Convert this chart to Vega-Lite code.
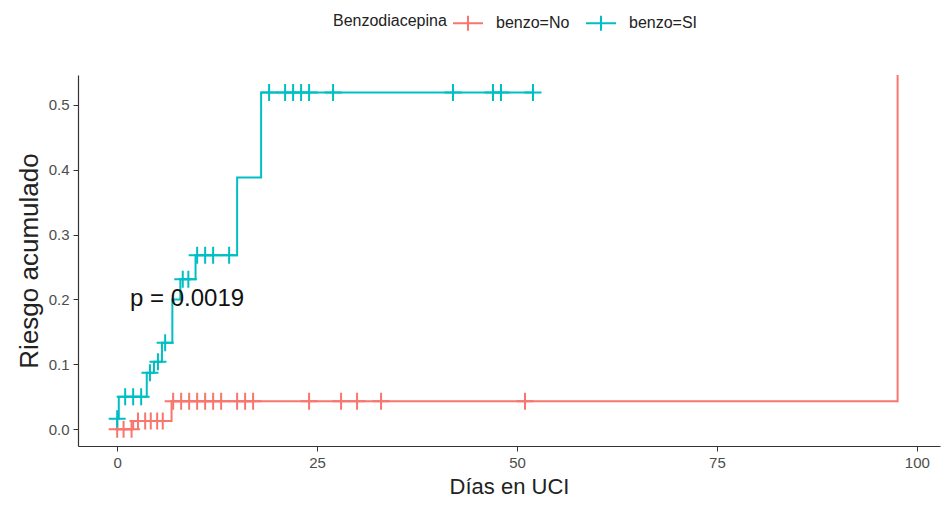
{
  "$schema": "https://vega.github.io/schema/vega-lite/v6.json",
  "width": 862,
  "height": 371,
  "autosize": "none",
  "padding": {"left": 78, "top": 75, "right": 6, "bottom": 64},
  "background": "white",
  "config": {
    "view": {"stroke": null},
    "font": "Liberation Sans"
  },
  "datasets": {
    "steps": [
      {"grupo": "benzo=No", "seq": 1, "dia": 0, "riesgo": 0},
      {"grupo": "benzo=No", "seq": 2, "dia": 2.0, "riesgo": 0.0125},
      {"grupo": "benzo=No", "seq": 3, "dia": 6.8, "riesgo": 0.043},
      {"grupo": "benzo=No", "seq": 4, "dia": 97.6, "riesgo": 0.043},
      {"grupo": "benzo=No", "seq": 5, "dia": 97.6, "riesgo": 1.0},
      {"grupo": "benzo=SI", "seq": 1, "dia": 0, "riesgo": 0},
      {"grupo": "benzo=SI", "seq": 2, "dia": 0, "riesgo": 0.016},
      {"grupo": "benzo=SI", "seq": 3, "dia": 0.2, "riesgo": 0.05},
      {"grupo": "benzo=SI", "seq": 4, "dia": 3.7, "riesgo": 0.087},
      {"grupo": "benzo=SI", "seq": 5, "dia": 4.6, "riesgo": 0.104},
      {"grupo": "benzo=SI", "seq": 6, "dia": 5.6, "riesgo": 0.133},
      {"grupo": "benzo=SI", "seq": 7, "dia": 6.9, "riesgo": 0.2},
      {"grupo": "benzo=SI", "seq": 8, "dia": 7.9, "riesgo": 0.231},
      {"grupo": "benzo=SI", "seq": 9, "dia": 9.8, "riesgo": 0.268},
      {"grupo": "benzo=SI", "seq": 10, "dia": 15.0, "riesgo": 0.388},
      {"grupo": "benzo=SI", "seq": 11, "dia": 18.0, "riesgo": 0.519},
      {"grupo": "benzo=SI", "seq": 12, "dia": 52, "riesgo": 0.519}
    ],
    "censuras": [
      {"grupo": "benzo=No", "dia": 0, "riesgo": 0},
      {"grupo": "benzo=No", "dia": 0.8, "riesgo": 0},
      {"grupo": "benzo=No", "dia": 1.8, "riesgo": 0},
      {"grupo": "benzo=No", "dia": 2.6, "riesgo": 0.0125},
      {"grupo": "benzo=No", "dia": 3.5, "riesgo": 0.0125},
      {"grupo": "benzo=No", "dia": 4.2, "riesgo": 0.0125},
      {"grupo": "benzo=No", "dia": 5.0, "riesgo": 0.0125},
      {"grupo": "benzo=No", "dia": 5.7, "riesgo": 0.0125},
      {"grupo": "benzo=No", "dia": 7, "riesgo": 0.043},
      {"grupo": "benzo=No", "dia": 8, "riesgo": 0.043},
      {"grupo": "benzo=No", "dia": 9, "riesgo": 0.043},
      {"grupo": "benzo=No", "dia": 10, "riesgo": 0.043},
      {"grupo": "benzo=No", "dia": 11, "riesgo": 0.043},
      {"grupo": "benzo=No", "dia": 12, "riesgo": 0.043},
      {"grupo": "benzo=No", "dia": 13, "riesgo": 0.043},
      {"grupo": "benzo=No", "dia": 15, "riesgo": 0.043},
      {"grupo": "benzo=No", "dia": 16, "riesgo": 0.043},
      {"grupo": "benzo=No", "dia": 17, "riesgo": 0.043},
      {"grupo": "benzo=No", "dia": 24, "riesgo": 0.043},
      {"grupo": "benzo=No", "dia": 28, "riesgo": 0.043},
      {"grupo": "benzo=No", "dia": 30, "riesgo": 0.043},
      {"grupo": "benzo=No", "dia": 33, "riesgo": 0.043},
      {"grupo": "benzo=No", "dia": 51, "riesgo": 0.043},
      {"grupo": "benzo=SI", "dia": 0, "riesgo": 0.016},
      {"grupo": "benzo=SI", "dia": 1, "riesgo": 0.05},
      {"grupo": "benzo=SI", "dia": 2, "riesgo": 0.05},
      {"grupo": "benzo=SI", "dia": 3, "riesgo": 0.05},
      {"grupo": "benzo=SI", "dia": 4.1, "riesgo": 0.087},
      {"grupo": "benzo=SI", "dia": 5.1, "riesgo": 0.104},
      {"grupo": "benzo=SI", "dia": 6, "riesgo": 0.133},
      {"grupo": "benzo=SI", "dia": 8.2, "riesgo": 0.231},
      {"grupo": "benzo=SI", "dia": 8.9, "riesgo": 0.231},
      {"grupo": "benzo=SI", "dia": 10, "riesgo": 0.268},
      {"grupo": "benzo=SI", "dia": 11, "riesgo": 0.268},
      {"grupo": "benzo=SI", "dia": 12, "riesgo": 0.268},
      {"grupo": "benzo=SI", "dia": 14, "riesgo": 0.268},
      {"grupo": "benzo=SI", "dia": 19, "riesgo": 0.519},
      {"grupo": "benzo=SI", "dia": 21, "riesgo": 0.519},
      {"grupo": "benzo=SI", "dia": 22, "riesgo": 0.519},
      {"grupo": "benzo=SI", "dia": 23, "riesgo": 0.519},
      {"grupo": "benzo=SI", "dia": 24, "riesgo": 0.519},
      {"grupo": "benzo=SI", "dia": 27, "riesgo": 0.519},
      {"grupo": "benzo=SI", "dia": 42, "riesgo": 0.519},
      {"grupo": "benzo=SI", "dia": 47, "riesgo": 0.519},
      {"grupo": "benzo=SI", "dia": 48, "riesgo": 0.519},
      {"grupo": "benzo=SI", "dia": 52, "riesgo": 0.519}
    ],
    "pval": [
      {"dia": 1.6, "riesgo": 0.2, "texto": "p = 0.0019"}
    ]
  },
  "encoding": {
    "x": {
      "field": "dia", "type": "quantitative",
      "scale": {"domain": [-4.9, 102.9], "nice": false, "zero": false},
      "axis": {
        "title": "Días en UCI",
        "values": [0, 25, 50, 75, 100],
        "grid": false,
        "domainColor": "#333333", "domainWidth": 1.2,
        "tickColor": "#333333", "tickSize": 5,
        "labelFontSize": 15, "labelColor": "#4d4d4d", "labelPadding": 4,
        "titleFontSize": 22, "titleFontWeight": "normal",
        "titleColor": "#222222", "titlePadding": 6
      }
    },
    "y": {
      "field": "riesgo", "type": "quantitative",
      "scale": {"domain": [-0.026, 0.546], "nice": false, "zero": false},
      "axis": {
        "title": "Riesgo acumulado",
        "values": [0, 0.1, 0.2, 0.3, 0.4, 0.5],
        "format": ".1f",
        "grid": false,
        "domainColor": "#333333", "domainWidth": 1.2,
        "tickColor": "#333333", "tickSize": 5,
        "labelFontSize": 15, "labelColor": "#4d4d4d", "labelPadding": 4,
        "titleFontSize": 26, "titleFontWeight": "normal",
        "titleColor": "#222222", "titlePadding": 6
      }
    }
  },
  "layer": [
    {
      "data": {"name": "steps"},
      "mark": {"type": "line", "interpolate": "step-after", "strokeWidth": 2, "clip": true},
      "encoding": {
        "color": {
          "field": "grupo", "type": "nominal",
          "scale": {"domain": ["benzo=No", "benzo=SI"], "range": ["#F8766D", "#00BFC4"]},
          "legend": {
            "title": "Benzodiacepina",
            "orient": "none",
            "legendX": 255,
            "legendY": -68,
            "direction": "horizontal",
            "titleOrient": "left",
            "titleFontSize": 16, "titleFontWeight": "normal", "titleColor": "#222222",
            "labelFontSize": 16, "labelColor": "#222222",
            "symbolType": "M-1,0H1M0,-0.5V0.5",
            "symbolSize": 900,
            "symbolStrokeWidth": 2,
            "symbolFillColor": "transparent",
            "columnPadding": 12,
            "labelOffset": 12
          }
        },
        "order": {"field": "seq", "type": "quantitative"}
      }
    },
    {
      "data": {"name": "censuras"},
      "mark": {"type": "point", "shape": "M-1,0H1M0,-1V1", "filled": false, "size": 289, "strokeWidth": 2, "opacity": 1, "clip": true},
      "encoding": {
        "color": {"field": "grupo", "type": "nominal"}
      }
    },
    {
      "data": {"name": "pval"},
      "mark": {"type": "text", "align": "left", "baseline": "middle", "fontSize": 24, "color": "#111111"},
      "encoding": {
        "text": {"field": "texto"}
      }
    }
  ]
}
